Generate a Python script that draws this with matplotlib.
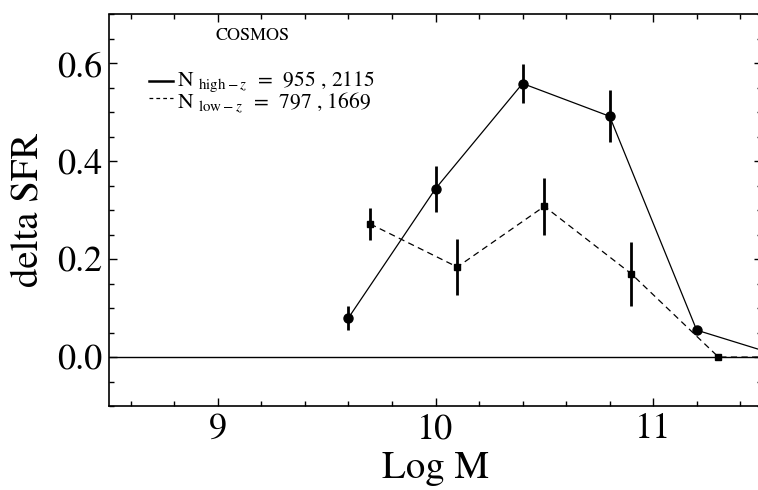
import matplotlib
matplotlib.use("Agg")
import matplotlib.pyplot as plt
from matplotlib.lines import Line2D
from matplotlib.ticker import MultipleLocator, FormatStrFormatter

plt.rcParams["font.family"] = ["STIXGeneral", "DejaVu Serif"]
plt.rcParams["mathtext.fontset"] = "stix"

# High-redshift sample
logm_high = [9.6, 10.0, 10.4, 10.8, 11.2, 11.6]
dsfr_high = [0.080, 0.344, 0.559, 0.492, 0.055, 0.0]
err_high = [0.025, 0.047, 0.039, 0.053, 0.0, 0.0]

# Low-redshift sample
logm_low = [9.7, 10.1, 10.5, 10.9, 11.3, 11.7]
dsfr_low = [0.272, 0.184, 0.308, 0.170, 0.0, 0.0]
err_low = [0.033, 0.057, 0.058, 0.066, 0.0, 0.0]

title_text = "COSMOS"
label_high = r"N $_{\mathrm{high}-z}$  =  955 , 2115"
label_low = r"N $_{\mathrm{low}-z}$  =  797 , 1669"

fig = plt.figure(figsize=(7.58, 4.90), dpi=100)
ax = fig.add_axes([109 / 758, 84 / 490, 653 / 758, 391.5 / 490])

ax.axhline(0.0, color="black", lw=1.0, zorder=1)

ax.plot(logm_high, dsfr_high, "-", color="black", lw=0.9,
        marker="o", ms=6.5, zorder=3)
ax.errorbar(logm_high, dsfr_high, yerr=err_high, fmt="none",
            ecolor="black", elinewidth=2.0, capsize=0, zorder=3)

ax.plot(logm_low, dsfr_low, "--", color="black", lw=0.9, dashes=(5, 3.5),
        marker="s", ms=5.0, zorder=3)
ax.errorbar(logm_low, dsfr_low, yerr=err_low, fmt="none",
            ecolor="black", elinewidth=2.0, capsize=0, zorder=3)

ax.set_xlim(8.5, 11.5)
ax.set_ylim(-0.1, 0.7)
ax.xaxis.set_major_locator(MultipleLocator(1))
ax.xaxis.set_minor_locator(MultipleLocator(0.2))
ax.yaxis.set_major_locator(MultipleLocator(0.2))
ax.yaxis.set_minor_locator(MultipleLocator(0.05))
ax.yaxis.set_major_formatter(FormatStrFormatter("%.1f"))

ax.tick_params(which="both", direction="in", top=True, right=True,
               labelsize=26, width=1.0)
ax.tick_params(which="major", length=6, pad=5)
ax.tick_params(which="minor", length=3.5)
for s in ax.spines.values():
    s.set_linewidth(1.2)

ax.set_xlabel("Log M", fontsize=28, labelpad=4)
ax.set_ylabel("delta SFR", fontsize=28, labelpad=8)

# Key: title, sample lines and a two-line text block
ax.text(0.219, 0.935, title_text, transform=ax.transAxes, fontsize=13,
        ha="center", va="baseline")
ax.add_line(Line2D([0.0613, 0.0980], [0.830, 0.830], transform=ax.transAxes,
                   color="black", lw=1.8))
ax.add_line(Line2D([0.0613, 0.0980], [0.786, 0.786], transform=ax.transAxes,
                   color="black", lw=0.9, dashes=(3, 2.5)))
ax.text(0.104, 0.860, label_high + "\n" + label_low, transform=ax.transAxes,
        fontsize=15.5, ha="left", va="top", linespacing=0.82)

fig.savefig("out.png", dpi=100)
